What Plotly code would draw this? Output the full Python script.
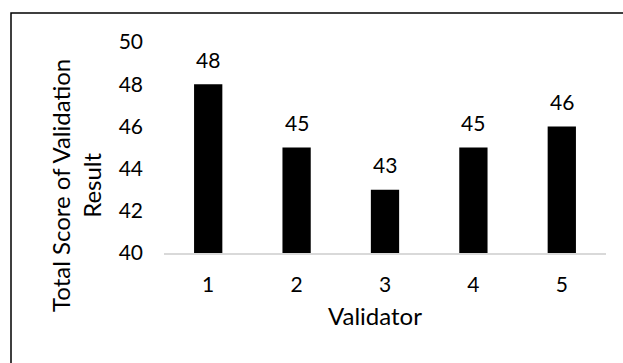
import plotly.graph_objects as go

validators = ["1", "2", "3", "4", "5"]
scores = [48, 45, 43, 45, 46]
y_ticks = [40, 42, 44, 46, 48, 50]

W, H = 623, 363
L, R, T, B = 164, 17, 42, 110
pw, ph = W - L - R, H - T - B
FONT = "Lato, Open Sans, sans-serif"

def px_x(p):
    return (p - L) / pw

def px_y(p):
    return (H - B - p) / ph

fig = go.Figure(go.Bar(
    x=validators, y=scores,
    marker=dict(color="black", line=dict(width=0)),
    cliponaxis=False,
))

annotations = [
    dict(x=i, y=s, xref="x", yref="y", text=str(s), showarrow=False,
         yanchor="middle", yshift=25, font=dict(size=21, color="#000"))
    for i, s in enumerate(scores)
]
annotations.append(dict(
    x=px_x(76), y=px_y(186), xref="paper", yref="paper",
    text="Total Score of Validation<br>Result", textangle=-90, showarrow=False,
    xanchor="center", yanchor="middle", font=dict(size=24, color="#000"),
))
annotations.append(dict(
    x=px_x(375), y=px_y(315), xref="paper", yref="paper",
    text="Validator", showarrow=False,
    xanchor="center", yanchor="middle", font=dict(size=24, color="#000"),
))

fig.update_layout(
    width=W, height=H,
    margin=dict(l=L, r=R, t=T, b=B, autoexpand=False),
    paper_bgcolor="white", plot_bgcolor="white",
    font=dict(family=FONT, size=21, color="#000"),
    bargap=0.68,
    showlegend=False,
    xaxis=dict(
        showline=True, linecolor="#d9d9d9", linewidth=1.5,
        ticks="", tickfont=dict(size=21), ticklabelstandoff=12,
        automargin=False,
    ),
    yaxis=dict(
        range=[40, 50], tickvals=y_ticks, showgrid=False, zeroline=False,
        showline=False, ticks="", tickfont=dict(size=21), ticklabelstandoff=20,
        automargin=False,
    ),
    annotations=annotations,
    shapes=[dict(
        type="rect", xref="paper", yref="paper",
        x0=px_x(11), x1=px_x(640), y0=px_y(380), y1=px_y(13),
        line=dict(color="black", width=1.5), fillcolor="rgba(0,0,0,0)", layer="below",
    )],
)

fig.write_html(
    "out.html",
    config={"displayModeBar": False},
    post_script="document.body.style.margin='0';document.body.style.overflow='hidden';",
)
